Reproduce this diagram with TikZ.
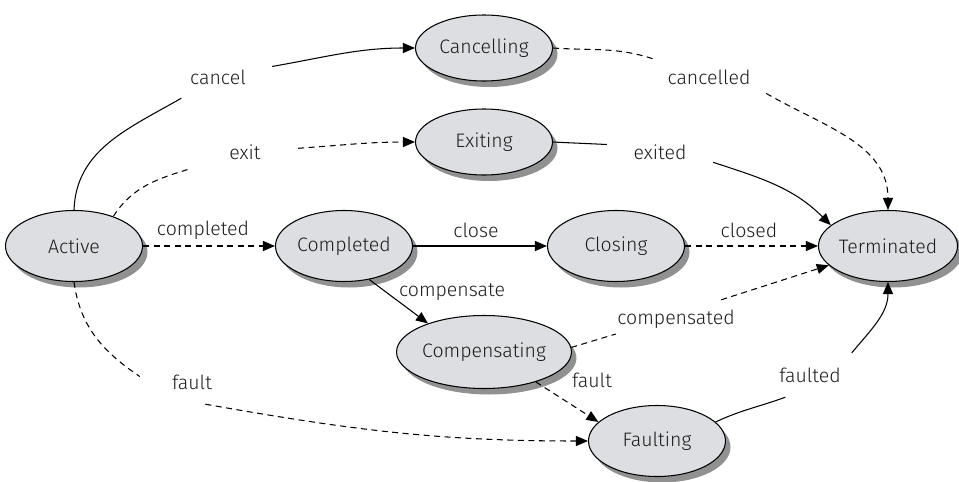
\documentclass[tikz,border=0pt]{standalone}
\usepackage{fontspec}
\setmainfont{Fira Sans Light}
\usetikzlibrary{shapes.geometric,shadows,arrows.meta}
\definecolor{statefill}{RGB}{221,222,225}
\definecolor{shadowgray}{RGB}{145,145,145}
\definecolor{ink}{RGB}{28,28,28}
\begin{document}
\begin{tikzpicture}[x=1pt,y=-1pt,
  stateshape/.style={ellipse, draw=black, line width=1.05pt, fill=statefill,
    minimum width=137pt, minimum height=71pt, inner sep=0pt, text=ink,
    font=\fontsize{19.5}{22}\selectfont,
    drop shadow={shadow xshift=5pt, shadow yshift=-6pt, fill=shadowgray, opacity=1}},
  lbl/.style={inner sep=0pt, text=ink, font=\fontsize{19.5}{22}\selectfont},
  flow/.style={line width=1.05pt, draw=black},
  arrowend/.style={-{Triangle[length=12pt,width=10pt]}},
  dashedflow/.style={flow, dash pattern=on 6pt off 4.5pt}
]
\useasboundingbox (0,0) rectangle (959,482);

% states
\node[stateshape, minimum height=66pt] (cancelling) at (484,48) {Cancelling};
\node[stateshape, minimum height=66pt] (exiting) at (484,142) {Exiting};
\node[stateshape] (active) at (74,246) {Active};
\node[stateshape] (completed) at (344,246) {Completed};
\node[stateshape] (closing) at (616,246) {Closing};
\node[stateshape] (terminated) at (888,246) {Terminated};
\node[stateshape, minimum width=155pt, minimum height=73pt] (compensating) at (484,352) {Compensating};
\node[stateshape] (faulting) at (657,441) {Faulting};

% transition labels (boxes of the broken connectors set the gap)
\node[lbl, minimum width=108pt, minimum height=42pt] (lcancel) at (218,77) {cancel};
\node[lbl, minimum width=106pt, minimum height=34pt] (lexit) at (245,152) {exit};
\node[lbl, minimum width=114pt, minimum height=36pt] (lcancelled) at (709,77) {cancelled};
\node[lbl, minimum width=106pt, minimum height=30pt] (lexited) at (660,152) {exited};
\node[lbl] (lcompleted) at (203,230) {completed};
\node[lbl] (lclose) at (476,230) {close};
\node[lbl] (lclosed) at (749,230) {closed};
\node[lbl] (lcompensate) at (452,292) {compensate};
\node[lbl, minimum width=120pt, minimum height=38pt] (lcompensated) at (676,319) {compensated};
\node[lbl] (lfaultc) at (592,380) {fault};
\node[lbl, minimum width=104pt, minimum height=44pt] (lfault) at (192,382) {fault};
\node[lbl, minimum width=84pt, minimum height=44pt] (lfaulted) at (810,375) {faulted};

% transitions
\draw[flow] (active.north) to[out=88, in=210] (lcancel.210);
\draw[flow, arrowend] (lcancel.11) to[out=10, in=180] (cancelling.west);

\draw[dashedflow] (active.37) to[out=57, in=197] (lexit.197);
\draw[dashedflow, arrowend] (lexit.4) to[out=4, in=180] (exiting.west);

\draw[dashedflow, arrowend] (active.east) -- (completed.west);
\draw[flow, arrowend] (completed.east) -- (closing.west);
\draw[dashedflow, arrowend] (closing.east) -- (terminated.west);

\draw[dashedflow] (cancelling.east) to[out=-4, in=162] (lcancelled.162);
\draw[dashedflow, arrowend] (lcancelled.-16) to[out=-30, in=90] (terminated.north);

\draw[flow] (exiting.east) to[out=-3, in=177] (lexited.172);
\draw[flow, arrowend] (lexited.-11) to[out=-18, in=135] (terminated.160);

\draw[flow, arrowend] (completed.-53) -- (compensating.153);

\draw[dashedflow] (compensating.3) -- (lcompensated.194);
\draw[dashedflow, arrowend] (lcompensated.23) -- (terminated.198);

\draw[dashedflow, arrowend] (compensating.-30) -- (faulting.162);

\draw[dashedflow] (active.south) to[out=-82, in=146] (lfault.174);
\draw[dashedflow, arrowend] (lfault.-59) to[out=-10, in=180] (faulting.west);

\draw[flow] (faulting.18) to[out=25, in=200] (lfaulted.222);
\draw[flow, arrowend] (lfaulted.28) to[out=50, in=-90] (terminated.south);
\end{tikzpicture}
\end{document}
